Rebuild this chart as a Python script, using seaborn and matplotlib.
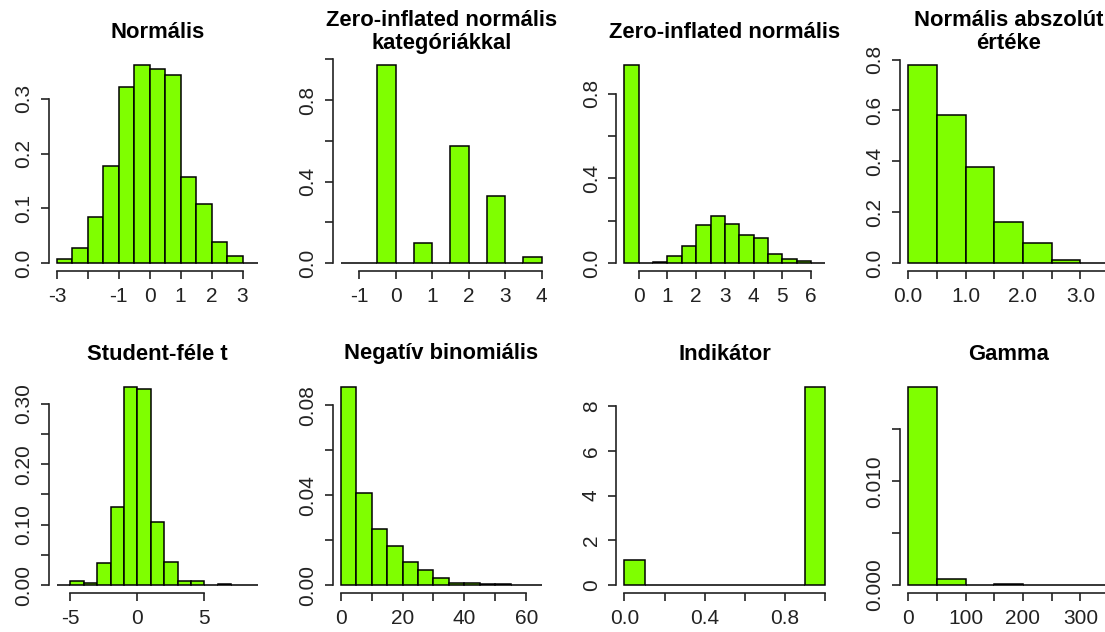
import numpy as np
import pandas as pd
import matplotlib
matplotlib.use("Agg")
import matplotlib.pyplot as plt
import seaborn as sns

sns.set_theme(style="white")
plt.rcParams["font.family"] = ["Liberation Sans", "DejaVu Sans"]

# ---------------- data (densities per bin) ----------------
titles = ["Normális", "Zero-inflated normális\nkategóriákkal", "Zero-inflated normális",
          "Normális abszolút\nértéke", "Student-féle t", "Negatív binomiális",
          "Indikátor", "Gamma"]

bin_start = [-3.0, -1.5, -0.5, 0.0, -6.0, 0.0, 0.0, 0.0]
bin_width = [0.5, 0.5, 0.5, 0.5, 1.0, 5.0, 0.1, 50.0]

dens_normal = [0.008, 0.028, 0.085, 0.177, 0.321, 0.362, 0.354, 0.344, 0.157, 0.108, 0.039, 0.013, 0.0]
dens_zi_cat = [0.0, 0.0, 0.972, 0.0, 0.097, 0.0, 0.574, 0.0, 0.331, 0.0, 0.028]
dens_zi_norm = [0.936, 0.0, 0.006, 0.033, 0.079, 0.178, 0.224, 0.186, 0.133, 0.120, 0.041, 0.021, 0.008, 0.0]
dens_abs_norm = [0.779, 0.581, 0.376, 0.163, 0.078, 0.012, 0.0]
dens_student = [0.0, 0.006, 0.004, 0.037, 0.130, 0.328, 0.324, 0.104, 0.039, 0.006, 0.006, 0.0, 0.002, 0.0, 0.0]
dens_negbin = [0.0882, 0.0411, 0.0249, 0.0174, 0.0104, 0.0067, 0.0030, 0.0010, 0.0010, 0.0006, 0.0006, 0.0, 0.0]
dens_indicator = [1.1, 0, 0, 0, 0, 0, 0, 0, 0, 8.85]
dens_gamma = [0.0191, 0.00061, 0.0, 0.00013, 0.0, 0.0, 0.0]

densities = [dens_normal, dens_zi_cat, dens_zi_norm, dens_abs_norm,
             dens_student, dens_negbin, dens_indicator, dens_gamma]

xtick_vals = [[-3, -2, -1, 0, 1, 2, 3], [-1, 0, 1, 2, 3, 4], [0, 1, 2, 3, 4, 5, 6],
              [0, 0.5, 1, 1.5, 2, 2.5, 3, 3.5], [-5, 0, 5], [0, 10, 20, 30, 40, 50, 60],
              [0, 0.2, 0.4, 0.6, 0.8, 1.0], [0, 50, 100, 150, 200, 250, 300, 350]]
xtick_labs = [["-3", "", "-1", "0", "1", "2", "3"], ["-1", "0", "1", "2", "3", "4"],
              ["0", "1", "2", "3", "4", "5", "6"],
              ["0.0", "", "1.0", "", "2.0", "", "3.0", ""], ["-5", "0", "5"],
              ["0", "", "20", "", "40", "", "60"], ["0.0", "", "0.4", "", "0.8", ""],
              ["0", "", "100", "", "200", "", "300", ""]]
ytick_vals = [[0, 0.1, 0.2, 0.3], [0, 0.2, 0.4, 0.6, 0.8, 1.0], [0, 0.2, 0.4, 0.6, 0.8],
              [0, 0.2, 0.4, 0.6, 0.8], [0, 0.05, 0.10, 0.15, 0.20, 0.25, 0.30],
              [0, 0.02, 0.04, 0.06, 0.08], [0, 2, 4, 6, 8], [0, 0.005, 0.010, 0.015]]
ytick_labs = [["0.0", "0.1", "0.2", "0.3"], ["0.0", "", "0.4", "", "0.8", ""],
              ["0.0", "", "0.4", "", "0.8"], ["0.0", "0.2", "0.4", "0.6", "0.8"],
              ["0.00", "", "0.10", "", "0.20", "", "0.30"], ["0.00", "", "0.04", "", "0.08"],
              ["0", "2", "4", "6", "8"], ["0.000", "", "0.010", ""]]

# ---------------- layout ----------------
W, H = 1105, 632
fig = plt.figure(figsize=(W / 100, H / 100), dpi=100)
bar_color = "#7FFF00"
ink = "#222222"

for i in range(8):
    row, col = divmod(i, 4)
    left_px = 49 + 283.7 * col
    top_px = 57 if row == 0 else 379
    ax = fig.add_axes([left_px / W, 1 - (top_px + 214) / H, 217 / W, 214 / H])

    dens = np.array(densities[i], dtype=float)
    n = len(dens)
    edges = bin_start[i] + bin_width[i] * np.arange(n + 1)
    centers = (edges[:-1] + edges[1:]) / 2
    df = pd.DataFrame({"x": centers, "w": dens})
    sns.histplot(data=df, x="x", weights="w", bins=[float(e) for e in edges],
                 stat="count", color=bar_color, edgecolor="black",
                 linewidth=1.1, alpha=1, ax=ax)

    rng = edges[-1] - edges[0]
    ax.set_xlim(edges[0] - 0.04 * rng, edges[-1] + 0.04 * rng)
    ymax = dens.max()
    ax.set_ylim(-0.04 * ymax, 1.04 * ymax)

    ax.set_xlabel("")
    ax.set_ylabel("")
    ax.set_xticks(xtick_vals[i])
    ax.set_xticklabels(xtick_labs[i])
    ax.set_yticks(ytick_vals[i])
    ax.set_yticklabels(ytick_labs[i])
    for s in ["top", "right"]:
        ax.spines[s].set_visible(False)
    ax.spines["left"].set_bounds(ytick_vals[i][0], ytick_vals[i][-1])
    ax.spines["bottom"].set_bounds(xtick_vals[i][0], xtick_vals[i][-1])
    for s in ["left", "bottom"]:
        ax.spines[s].set_color(ink)
        ax.spines[s].set_linewidth(1.2)
    ax.tick_params(axis="both", direction="out", length=5.8, width=1.2,
                   color=ink, labelcolor=ink, labelsize=15, pad=5.5,
                   left=True, bottom=True)
    ax.tick_params(axis="y", labelrotation=90)
    for lab in ax.get_yticklabels():
        lab.set_va("center")
    ax.set_facecolor("white")
    ax.grid(False)

    ax.text(0.5, 1 + 25 / 214, titles[i], transform=ax.transAxes, ha="center",
            va="center", fontsize=15.8, fontweight="bold", color="black",
            linespacing=1.15)

fig.savefig("out.png", dpi=100, facecolor="white")
